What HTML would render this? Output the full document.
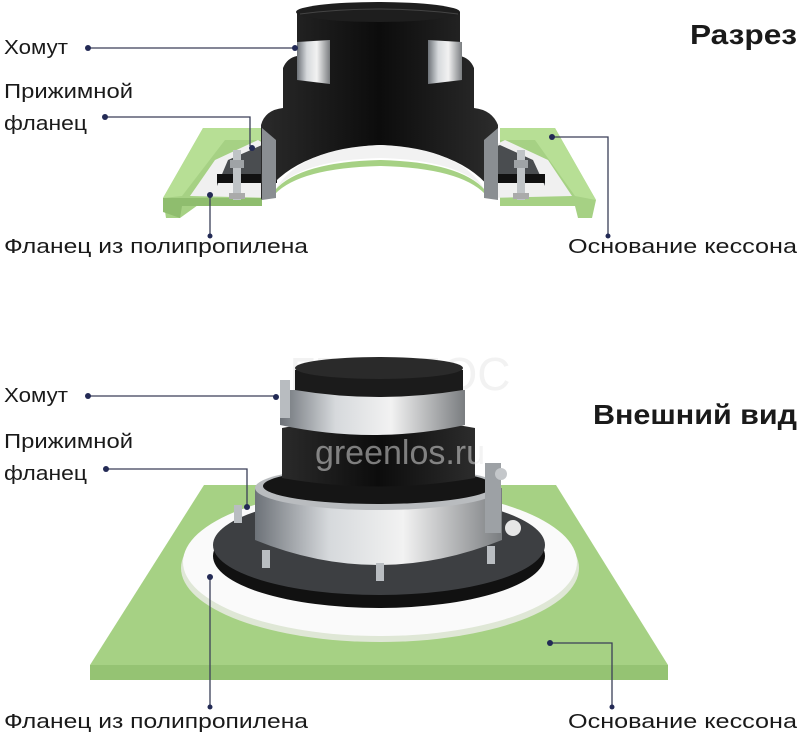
<!DOCTYPE html>
<html><head><meta charset="utf-8"><style>
body{margin:0;background:#fff;width:801px;height:734px;overflow:hidden}
svg{display:block}
text{font-family:"Liberation Sans","DejaVu Sans",sans-serif;fill:#1a1a1a}
</style></head><body>
<svg width="801" height="734" viewBox="0 0 801 734" xmlns="http://www.w3.org/2000/svg">
<defs>
<linearGradient id="blk" x1="0" x2="1"><stop offset="0" stop-color="#2a2a2a"/><stop offset=".5" stop-color="#0c0c0c"/><stop offset="1" stop-color="#2c2c2c"/></linearGradient>
<linearGradient id="met" x1="0" x2="1"><stop offset="0" stop-color="#6d7278"/><stop offset=".3" stop-color="#d6d9dc"/><stop offset=".6" stop-color="#f2f2f2"/><stop offset="1" stop-color="#7a7d80"/></linearGradient>
</defs>
<text x="400" y="390" font-size="46" text-anchor="middle" style="fill:#f2f2f2">ГРИНЛОС</text>
<!-- ===== TOP ===== -->
<polygon points="203,128 262,128 262,200 205,200 180,218 166,218 163,198" fill="#a6d184"/>
<polygon points="203,128 262,128 262,140 225,140 182,196 163,198" fill="#b7df95"/>
<polygon points="163,198 262,198 262,206 182,206 180,218 163,212" fill="#8fbd6e"/>
<polygon points="500,128 555,128 596,200 592,218 578,218 575,206 500,206" fill="#a6d184"/>
<polygon points="500,128 555,128 596,200 575,196 535,140 500,140" fill="#b7df95"/>
<polygon points="190,196 215,160 258,140 275,150 275,198" fill="#f0f0f0"/>
<polygon points="485,150 505,140 548,160 572,196 485,198" fill="#f0f0f0"/>
<polygon points="217,186 228,160 262,145 275,150 275,176 217,176" fill="#4a4d50"/>
<rect x="217" y="174" width="60" height="9" fill="#111"/>
<polygon points="485,150 500,145 533,160 545,186 545,176 485,176" fill="#4a4d50"/>
<rect x="485" y="174" width="60" height="9" fill="#111"/>
<rect x="233" y="150" width="8" height="50" fill="#bfc3c6"/><rect x="230" y="160" width="14" height="8" fill="#9fa3a6"/><rect x="229" y="193" width="16" height="6" fill="#aaa"/>
<rect x="517" y="150" width="8" height="50" fill="#bfc3c6"/><rect x="514" y="160" width="14" height="8" fill="#9fa3a6"/><rect x="513" y="193" width="16" height="6" fill="#aaa"/>
<path d="M261,200 L261,125 Q265,110 283,108 L283,68 Q287,58 297,56 L297,12 L460,12 L460,56 Q470,58 474,68 L474,108 Q492,110 498,125 L498,200 Q470,150 380,145 Q290,150 261,200 Z" fill="url(#blk)"/>
<ellipse cx="378" cy="12" rx="82" ry="10" fill="#1e1e1e"/>
<path d="M300,14 Q378,4 458,14" stroke="#444" fill="none"/>
<path d="M275,190 Q300,148 380,145 Q460,148 485,190 Q460,160 380,158 Q300,160 275,190 Z" fill="#f2f2f2"/>
<path d="M275,190 Q300,162 380,160 Q460,162 485,190 L485,194 Q460,168 380,166 Q300,168 275,194 Z" fill="#a6d184"/>
<polygon points="262,128 276,140 276,198 262,200" fill="#8a8e92"/>
<polygon points="484,140 498,128 498,200 484,198" fill="#8a8e92"/>
<polygon points="297,42 330,40 330,84 297,80" fill="url(#met)"/>
<polygon points="428,40 462,42 462,80 428,84" fill="url(#met)"/>
<text x="4" y="54" font-size="20" textLength="64" lengthAdjust="spacingAndGlyphs">Хомут</text>
<text x="4" y="98" font-size="20" textLength="129" lengthAdjust="spacingAndGlyphs">Прижимной</text>
<text x="4" y="130" font-size="20" textLength="83" lengthAdjust="spacingAndGlyphs">фланец</text>
<text x="690" y="44" font-size="28" font-weight="bold" textLength="107" lengthAdjust="spacingAndGlyphs">Разрез</text>
<text x="4" y="253" font-size="20" textLength="304" lengthAdjust="spacingAndGlyphs">Фланец из полипропилена</text>
<text x="568" y="253" font-size="20" textLength="229" lengthAdjust="spacingAndGlyphs">Основание кессона</text>
<g stroke="#3a3f58" stroke-width="1.3" fill="none">
<path d="M88,48 H295"/><path d="M105,117 H250 V146"/><path d="M210,195 V236"/><path d="M552,137 H608 V236"/>
</g>
<g fill="#232a55">
<circle cx="88" cy="48" r="3"/><circle cx="295" cy="48" r="3"/><circle cx="105" cy="117" r="3"/><circle cx="252" cy="148" r="3"/>
<circle cx="210" cy="195" r="3"/><circle cx="210" cy="236" r="2.5"/><circle cx="552" cy="137" r="3"/><circle cx="608" cy="236" r="2.5"/>
</g>
<!-- ===== BOTTOM ===== -->
<polygon points="204,485 556,485 668,665 668,680 90,680 90,665" fill="#a6d184"/>
<rect x="90" y="665" width="578" height="15" fill="#95c373"/>
<ellipse cx="380" cy="568" rx="199" ry="74" fill="#dfe7d6"/>
<ellipse cx="380" cy="562" rx="197" ry="74" fill="#fafafa"/>
<ellipse cx="379" cy="556" rx="166" ry="52" fill="#111"/>
<ellipse cx="379" cy="545" rx="166" ry="50" fill="#3d3f42"/>
<path d="M255,488 L255,540 Q378,590 502,540 L502,488 Z" fill="url(#met)"/>
<ellipse cx="378" cy="488" rx="123" ry="22" fill="#b9bcbf"/>
<ellipse cx="378" cy="486" rx="115" ry="18" fill="#151515"/>
<path d="M282,478 L282,428 Q378,410 475,428 L475,478 Q378,495 282,478 Z" fill="url(#blk)"/>
<path d="M280,390 L280,425 Q373,445 465,425 L465,390 Z" fill="url(#met)"/>
<path d="M295,390 L295,370 Q379,352 463,370 L463,390 Q379,404 295,390 Z" fill="#1b1b1b"/>
<ellipse cx="379" cy="368" rx="84" ry="11" fill="#2a2a2a"/>
<rect x="280" y="380" width="10" height="38" fill="#b8bcc0"/>
<rect x="485" y="463" width="16" height="70" fill="#9da1a5"/><circle cx="513" cy="528" r="8" fill="#e6e6e6"/>
<circle cx="501" cy="474" r="6" fill="#c4c7ca"/>
<g fill="#b9bdc1"><rect x="234" y="505" width="8" height="18"/><rect x="262" y="550" width="8" height="18"/><rect x="376" y="563" width="8" height="18"/><rect x="487" y="546" width="8" height="18"/></g>
<text x="400" y="464" font-size="34" text-anchor="middle" style="fill:#e8e8e8" opacity=".5">greenlos.ru</text>
<text x="4" y="402" font-size="20" textLength="64" lengthAdjust="spacingAndGlyphs">Хомут</text>
<text x="4" y="448" font-size="20" textLength="129" lengthAdjust="spacingAndGlyphs">Прижимной</text>
<text x="4" y="480" font-size="20" textLength="83" lengthAdjust="spacingAndGlyphs">фланец</text>
<text x="593" y="424" font-size="28" font-weight="bold" textLength="204" lengthAdjust="spacingAndGlyphs">Внешний вид</text>
<text x="4" y="728" font-size="20" textLength="304" lengthAdjust="spacingAndGlyphs">Фланец из полипропилена</text>
<text x="568" y="728" font-size="20" textLength="229" lengthAdjust="spacingAndGlyphs">Основание кессона</text>
<g stroke="#3a3f58" stroke-width="1.3" fill="none">
<path d="M88,396 H276"/><path d="M106,469 H247 V505"/><path d="M210,577 V707"/><path d="M550,643 H612 V707"/>
</g>
<g fill="#232a55">
<circle cx="88" cy="396" r="3"/><circle cx="276" cy="397" r="3"/><circle cx="106" cy="469" r="3"/><circle cx="247" cy="507" r="3"/>
<circle cx="210" cy="577" r="3"/><circle cx="210" cy="707" r="2.5"/><circle cx="550" cy="643" r="3"/><circle cx="612" cy="707" r="2.5"/>
</g>
</svg>
</body></html>
